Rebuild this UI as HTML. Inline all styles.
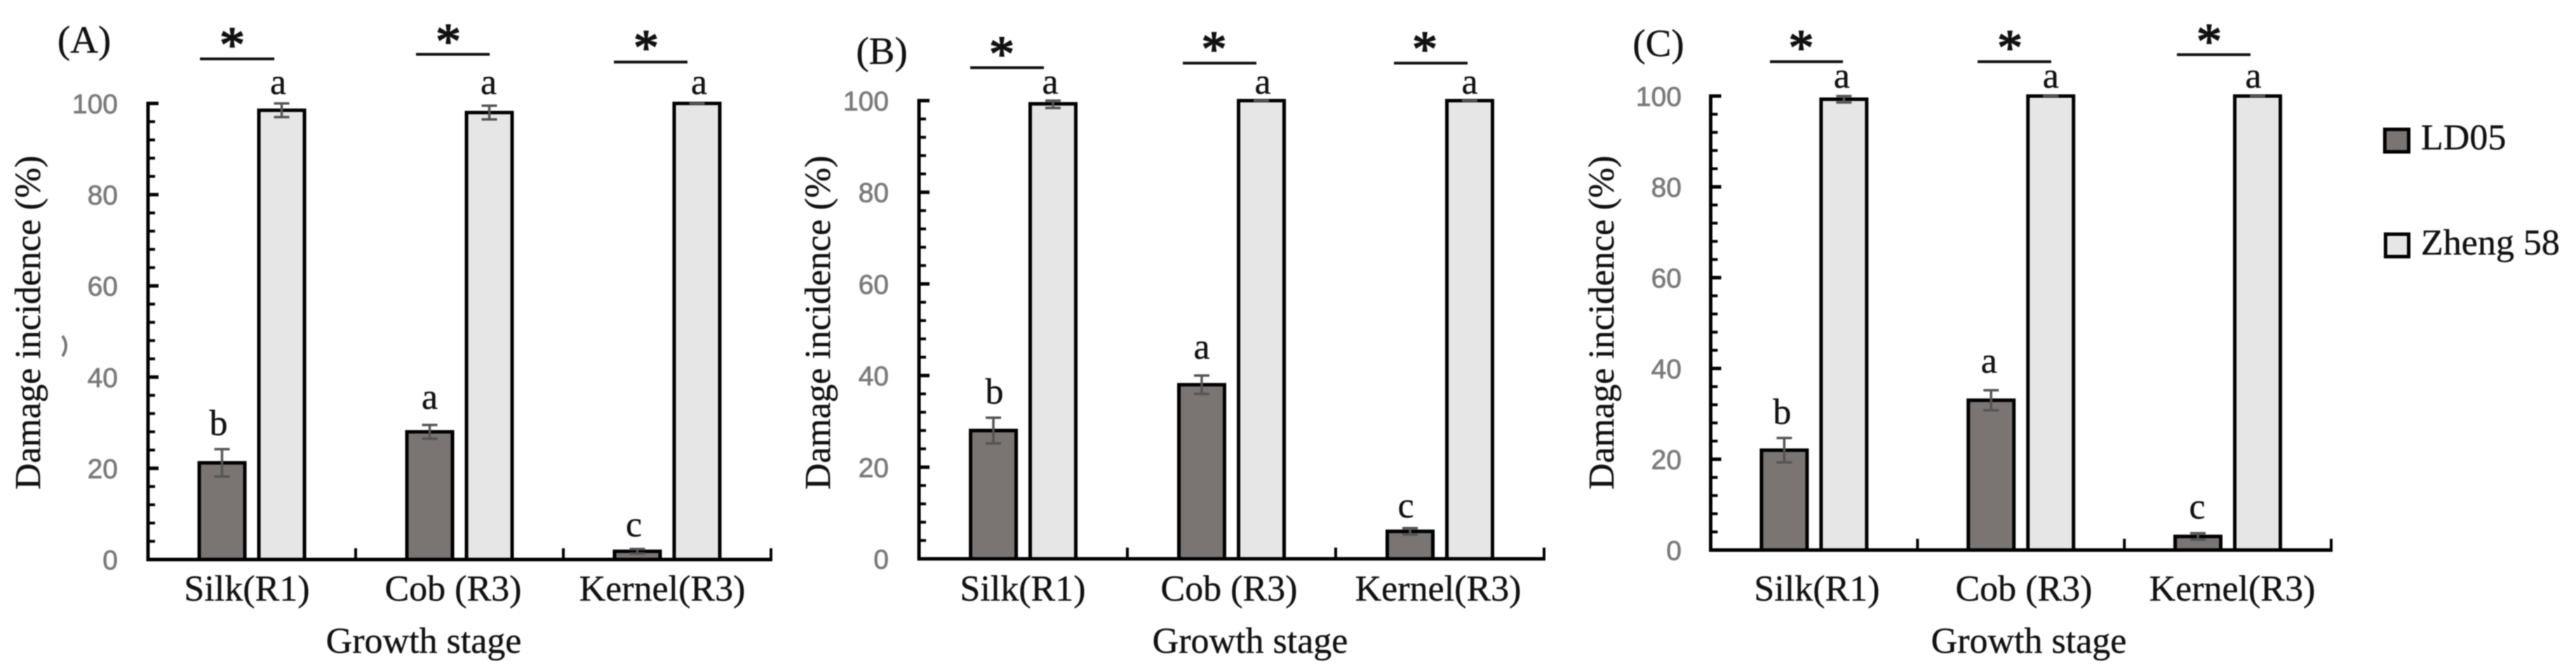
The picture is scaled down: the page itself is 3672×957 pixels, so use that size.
<!DOCTYPE html>
<html lang="en">
<head>
<meta charset="utf-8">
<title>Damage incidence by growth stage</title>
<style>
  html, body { margin: 0; padding: 0; background: #fff; }
  #figure { display: block; width: 3672px; height: 957px; filter: blur(0.8px); }
  text { font-family: "Liberation Serif", serif; fill: #111; stroke: #111; stroke-width: 0.4px; }
  .tick-label { font-family: "Liberation Sans", sans-serif; fill: #7a7a7a; stroke: #7a7a7a; stroke-width: 0.8px; font-size: 39px; }
  .sig-star { stroke-width: 1.8px; }
</style>
</head>
<body>
<svg id="figure" xmlns="http://www.w3.org/2000/svg" width="3672" height="957" viewBox="0 0 3672 957">
  <rect x="0" y="0" width="3672" height="957" fill="#ffffff"></rect>
  <path d="M89 479 Q99 493 89 508" fill="none" stroke="#777" stroke-width="4"></path>
  <g id="plots"></g>
  <g>
    <g>
      <rect x="3399.5" y="184.5" width="34" height="32" fill="#7a7472" stroke="#000" stroke-width="5"></rect>
      <text x="3451" y="213" font-size="52">LD05</text>
    </g>
    <g>
      <rect x="3400.5" y="334" width="33" height="32" fill="#e6e6e6" stroke="#000" stroke-width="5"></rect>
      <text x="3451" y="363" font-size="52">Zheng 58</text>
    </g>
  </g>
</svg>
<script>
const categories = ['Silk(R1)', 'Cob (R3)', 'Kernel(R3)'];
const yTickLabels = [0, 20, 40, 60, 80, 100];
const xAxisTitle = 'Growth stage';
const yAxisTitle = 'Damage incidence (%)';

const ld05ValuesA = [21.2, 28, 1.8];
const ld05ErrorsA = [3, 1.5, 0.5];
const zhengValuesA = [98.5, 98, 100];
const zhengErrorsA = [1.5, 1.5, 0];
const ld05LettersA = ['b', 'a', 'c'];
const zhengLettersA = ['a', 'a', 'a'];

const ld05ValuesB = [28, 38, 6];
const ld05ErrorsB = [2.8, 2, 0.7];
const zhengValuesB = [99.3, 100, 100];
const zhengErrorsB = [0.9, 0, 0];
const ld05LettersB = ['b', 'a', 'c'];
const zhengLettersB = ['a', 'a', 'a'];

const ld05ValuesC = [22, 33, 3];
const ld05ErrorsC = [2.7, 2.2, 0.7];
const zhengValuesC = [99.3, 100, 100];
const zhengErrorsC = [0.7, 0, 0];
const ld05LettersC = ['b', 'a', 'c'];
const zhengLettersC = ['a', 'a', 'a'];

const NS = 'http://www.w3.org/2000/svg';
const yMax = 100;
const minorStep = 4;
const barOffset = 42.5;
const barWidth = 65;

function make(parent, tag, attrs, content) {
  const node = document.createElementNS(NS, tag);
  Object.keys(attrs).forEach(function (k) { node.setAttribute(k, attrs[k]); });
  if (content !== undefined) node.textContent = content;
  parent.appendChild(node);
  return node;
}

function drawPanel(cfg) {
  const yScale = function (v) { return cfg.y0 - (v / yMax) * (cfg.y0 - cfg.y100); };
  const groupWidth = (cfg.right - cfg.left) / categories.length;
  const xBand = function (i) { return cfg.left + (i + 0.5) * groupWidth; };

  const root = document.getElementById('plots');
  const panel = make(root, 'g', {});
  
  

  const title = make(panel, 'text', { x: cfg.titleX, y: cfg.titleY, 'font-size': 55, 'text-anchor': 'middle' }, '(' + cfg.id.toUpperCase() + ')');
  
  

  const yTitle = make(panel, 'text', { transform: 'translate(' + cfg.yTitleX + ',460) rotate(-90)', 'font-size': 52, 'text-anchor': 'middle' }, yAxisTitle);
  
  

  const xTitle = make(panel, 'text', { x: cfg.xTitleX, y: 931, 'font-size': 52, 'text-anchor': 'middle' }, xAxisTitle);
  
  

  for (let v = 0; v <= yMax; v += minorStep) {
    const minor = make(panel, 'line', { x1: cfg.left, x2: cfg.left + 10, y1: yScale(v), y2: yScale(v), stroke: '#000', 'stroke-width': 4 });
    
    
  }

  yTickLabels.forEach(function (t) {
    const major = make(panel, 'line', { x1: cfg.left, x2: cfg.left + 15, y1: yScale(t), y2: yScale(t), stroke: '#000', 'stroke-width': 5 });
    
    
    const label = make(panel, 'text', { x: cfg.tickLabelRight, y: yScale(t) + 14, 'text-anchor': 'end', class: 'tick-label' }, String(t));
    
    
  });

  const yAxis = make(panel, 'line', { x1: cfg.left, x2: cfg.left, y1: yScale(yMax) - 2.5, y2: yScale(0) + 2.5, stroke: '#000', 'stroke-width': 5 });
  
  

  categories.forEach(function (cat, i) {
    const cx = xBand(i);

    const catTick = make(panel, 'line', { x1: cfg.left + (i + 1) * groupWidth, x2: cfg.left + (i + 1) * groupWidth, y1: yScale(0) - 16, y2: yScale(0), stroke: '#000', 'stroke-width': 4 });
    
    

    const catLabel = make(panel, 'text', { x: cfg.catX[i], y: 856.5, 'font-size': 52, 'text-anchor': 'middle' }, cat);
    
    

    const ldX = cx - barOffset;
    const zhX = cx + barOffset;

    const ldBar = make(panel, 'rect', { x: ldX - barWidth / 2, y: yScale(cfg.ld[i]), width: barWidth, height: yScale(0) - yScale(cfg.ld[i]), fill: '#7a7472', stroke: '#000', 'stroke-width': 5 });
    
    

    const zhBar = make(panel, 'rect', { x: zhX - barWidth / 2, y: yScale(cfg.zh[i]), width: barWidth, height: yScale(0) - yScale(cfg.zh[i]), fill: '#e6e6e6', stroke: '#000', 'stroke-width': 5 });
    
    

    [[ldX, cfg.ld[i], cfg.ldErr[i]], [zhX, cfg.zh[i], cfg.zhErr[i]]].forEach(function (s) {
      const hi = yScale(Math.min(s[1] + s[2], yMax));
      const lo = yScale(s[1] - s[2]);
      const stem = make(panel, 'line', { x1: s[0], x2: s[0], y1: hi, y2: lo, stroke: '#555', 'stroke-width': 3.5 });
      
      
      const capHi = make(panel, 'line', { x1: s[0] - 11, x2: s[0] + 11, y1: hi, y2: hi, stroke: '#555', 'stroke-width': 3.5 });
      
      
      const capLo = make(panel, 'line', { x1: s[0] - 11, x2: s[0] + 11, y1: lo, y2: lo, stroke: '#555', 'stroke-width': 3.5 });
      
      
    });

    const ldLetter = make(panel, 'text', { x: ldX + cfg.ldLetterDx[i], y: yScale(cfg.ld[i] + cfg.ldErr[i]) - cfg.ldLetterLift[i], 'font-size': 52, 'text-anchor': 'middle' }, cfg.ldLetters[i]);
    
    

    const zhLetter = make(panel, 'text', { x: zhX + cfg.zhLetterDx[i], y: yScale(yMax) - cfg.zhLetterLift, 'font-size': 52, 'text-anchor': 'middle' }, cfg.zhLetters[i]);
    
    

    const sig = cfg.sig[i];
    const sigLine = make(panel, 'line', { x1: sig.x1, x2: sig.x2, y1: sig.lineY, y2: sig.lineY, stroke: '#111', 'stroke-width': 4 });
    
    

    const star = make(panel, 'text', { x: sig.starX, y: sig.starY + 34, 'font-size': 72, 'text-anchor': 'middle', class: 'sig-star' }, '*');
    
    
  });

  const xAxis = make(panel, 'line', { x1: cfg.left - 2.5, x2: cfg.right + 2, y1: yScale(0), y2: yScale(0), stroke: '#000', 'stroke-width': 5 });
  
  
}

drawPanel({
  id: 'a', left: 211, right: 1099, y100: 147.5, y0: 798,
  ld: ld05ValuesA, ldErr: ld05ErrorsA, zh: zhengValuesA, zhErr: zhengErrorsA,
  ldLetters: ld05LettersA, zhLetters: zhengLettersA,
  titleX: 120, titleY: 75, yTitleX: 57, xTitleX: 604, tickLabelRight: 168,
  catX: [352, 646, 944],
  ldLetterDx: [-5, 0, -5], ldLetterLift: [20, 23, 18],
  zhLetterDx: [-5, -1, 3], zhLetterLift: 13.5,
  sig: [
    { x1: 285, x2: 391, lineY: 84, starX: 331, starY: 54 },
    { x1: 593, x2: 698, lineY: 77.5, starX: 639, starY: 49 },
    { x1: 875, x2: 980, lineY: 88.5, starX: 921, starY: 58 }
  ]
});

drawPanel({
  id: 'b', left: 1310, right: 2201, y100: 143.5, y0: 797,
  ld: ld05ValuesB, ldErr: ld05ErrorsB, zh: zhengValuesB, zhErr: zhengErrorsB,
  ldLetters: ld05LettersB, zhLetters: zhengLettersB,
  titleX: 1257, titleY: 91, yTitleX: 1183, xTitleX: 1782, tickLabelRight: 1267,
  catX: [1458, 1752, 2050],
  ldLetterDx: [1.5, 0, -6], ldLetterLift: [20, 24, 15],
  zhLetterDx: [-4, 2, 0], zhLetterLift: 10,
  sig: [
    { x1: 1383, x2: 1488, lineY: 96.5, starX: 1428, starY: 67 },
    { x1: 1686, x2: 1791, lineY: 90, starX: 1730.5, starY: 60 },
    { x1: 1987, x2: 2092, lineY: 90, starX: 2031, starY: 60 }
  ]
});

drawPanel({
  id: 'c', left: 2438.5, right: 3323, y100: 137, y0: 784.5,
  ld: ld05ValuesC, ldErr: ld05ErrorsC, zh: zhengValuesC, zhErr: zhengErrorsC,
  ldLetters: ld05LettersC, zhLetters: zhengLettersC,
  titleX: 2364, titleY: 80, yTitleX: 2300, xTitleX: 2892, tickLabelRight: 2397,
  catX: [2590, 2885, 3182],
  ldLetterDx: [-3, -3, -1], ldLetterLift: [20, 25, 21],
  zhLetterDx: [-3, 0, -6], zhLetterLift: 12,
  sig: [
    { x1: 2523, x2: 2627, lineY: 88, starX: 2567.5, starY: 58 },
    { x1: 2819, x2: 2924, lineY: 88, starX: 2865, starY: 58 },
    { x1: 3103, x2: 3208, lineY: 78, starX: 3149, starY: 49 }
  ]
});
</script>
</body>
</html>
